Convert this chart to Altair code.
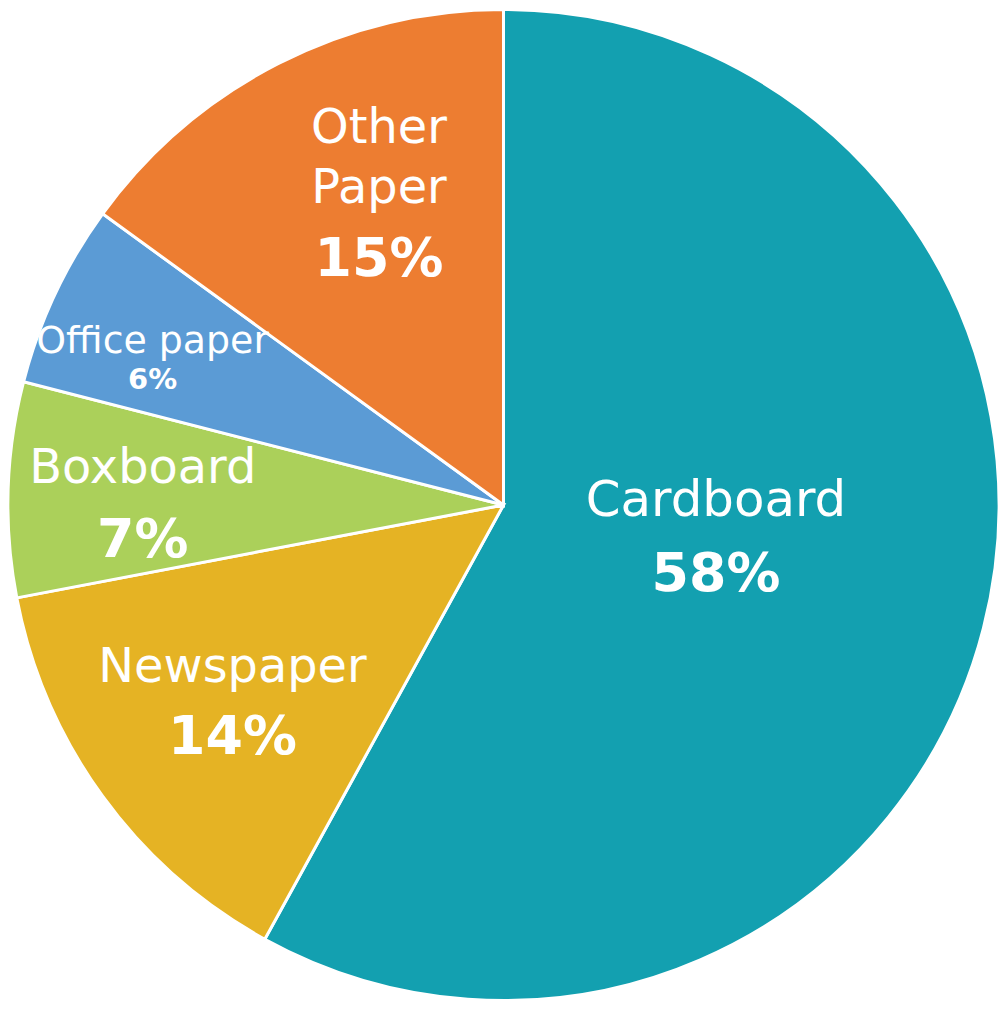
import math
import altair as alt
import pandas as pd

categories = ["Cardboard", "Newspaper", "Boxboard", "Office paper", "Other Paper"]
name_lines = ["Cardboard", "Newspaper", "Boxboard", "Office paper", "Other\nPaper"]
values = [58, 14, 7, 6, 15]
pct_labels = ["58%", "14%", "7%", "6%", "15%"]
colors = ["#13A0B0", "#E5B324", "#ABD05A", "#5B9BD5", "#ED7D31"]

df = pd.DataFrame({
    "category": categories,
    "name": name_lines,
    "value": values,
    "pct": pct_labels,
    "idx": list(range(len(categories))),
})

total = sum(values)
theta_scale = alt.Scale(domain=[0, total], range=[0, 2 * math.pi])
FONT = "DejaVu Sans"

# label layout (radius along slice mid-angle, line offsets, font sizes)
label_layout = {
    "Cardboard":    dict(r=220, name_size=50, pct_size=54, name_dy=-34, pct_dy=32),
    "Newspaper":    dict(r=336, name_size=48, pct_size=54, name_dy=-10, pct_dy=52),
    "Boxboard":     dict(r=362, name_size=48, pct_size=54, name_dy=-1, pct_dy=64),
    "Office paper": dict(r=389, name_size=38, pct_size=29, name_dy=21, pct_dy=49),
    "Other Paper":  dict(r=275, name_size=48, pct_size=54, name_dy=-108, pct_dy=15),
}

base = alt.Chart(df).transform_window(
    cum="sum(value)", sort=[alt.SortField("idx")]
).transform_calculate(mid="datum.cum - datum.value / 2")

pie = alt.Chart(df).mark_arc(stroke="white", strokeWidth=3).encode(
    theta=alt.Theta("value:Q", stack=True, scale=theta_scale),
    color=alt.Color("category:N", scale=alt.Scale(domain=categories, range=colors), legend=None),
    order=alt.Order("idx:Q"),
    radius=alt.value(497),
)

layers = [pie]
for cat in categories:
    lay = label_layout[cat]
    b = base.transform_filter(alt.datum.category == cat)
    th = alt.Theta("mid:Q", stack=False, scale=theta_scale)
    layers.append(
        b.mark_text(font=FONT, fontSize=lay["name_size"], color="white", baseline="bottom",
                    align="center", dy=lay["name_dy"], lineBreak="\n", lineHeight=60).encode(
            theta=th, radius=alt.value(lay["r"]), text="name:N")
    )
    layers.append(
        b.mark_text(font=FONT, fontSize=lay["pct_size"], fontWeight="bold", color="white",
                    baseline="alphabetic", align="center", dy=lay["pct_dy"]).encode(
            theta=th, radius=alt.value(lay["r"]), text="pct:N")
    )

chart = alt.layer(*layers).properties(
    width=994, height=994, padding=0,
    autosize=alt.AutoSizeParams(type="none"),
).configure_view(stroke=None)

chart.save("out.html", embed_options={"renderer": "svg", "actions": False})
